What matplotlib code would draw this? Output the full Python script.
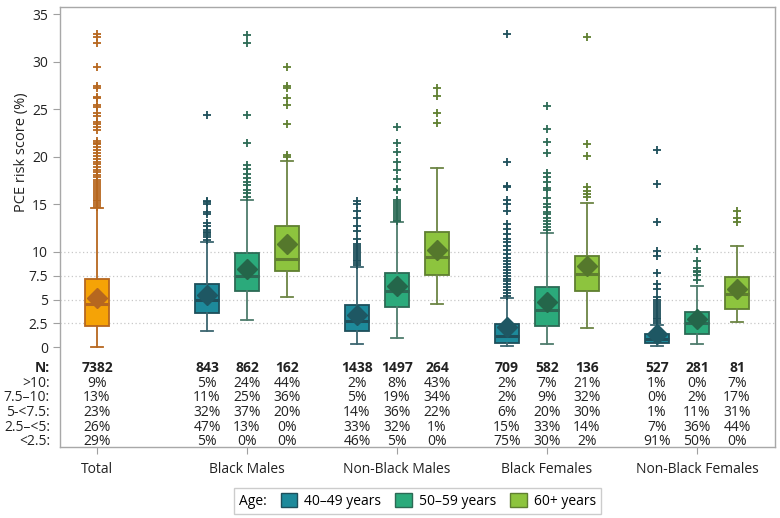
import matplotlib
matplotlib.use("Agg")
import matplotlib.pyplot as plt
from matplotlib.patches import Patch

plt.rcParams['font.family'] = ['Open Sans', 'DejaVu Sans']
plt.rcParams['font.size'] = 10

groups = ["Black Males", "Non-Black Males", "Black Females", "Non-Black Females"]
ages = ["40–49 years", "50–59 years", "60+ years"]
row_labels = [">10:", "7.5–10:", "5-<7.5:", "2.5–<5:", "<2.5:"]

# Total
total_n = 7382
total_pct = [9, 13, 23, 26, 29]
total_box = dict(whislo=0.0, q1=2.2, med=4.5, q3=7.2, whishi=14.6, mean=5.15,
                 fliers=[14.7, 14.9, 15.1, 15.3, 15.5, 15.7, 15.9, 16.1, 16.3, 16.5, 16.7,
                         16.9, 17.1, 17.4, 17.6, 17.9, 18.1, 18.4, 18.6, 18.9, 19.2, 19.5,
                         19.8, 20.1, 20.4, 20.7, 21.0, 21.3, 21.5, 21.7, 22.8, 23.1, 23.4,
                         23.7, 24.3, 24.6, 25.2, 25.4, 26.2, 26.3, 27.2, 27.4, 29.4, 32.0,
                         32.6, 32.9])

# 40-49 years (one value per group)
n_40 = [843, 1438, 709, 527]
pct_40 = [[5, 11, 32, 47, 5], [2, 5, 14, 33, 46], [2, 2, 6, 15, 75], [1, 0, 1, 7, 91]]
lo_40 = [1.72, 0.3, 0.07, 0.14]
q1_40 = [3.6, 1.72, 0.45, 0.45]
med_40 = [4.94, 2.73, 1.16, 0.9]
q3_40 = [6.58, 4.41, 2.42, 1.33]
hi_40 = [11.06, 8.44, 5.2, 2.31]
mean_40 = [5.43, 3.36, 2.13, 1.35]
fl_40 = [
    [11.3, 11.6, 11.8, 12.0, 12.1, 12.3, 12.7, 13.0, 14.0, 14.2, 15.0, 15.2, 15.4, 24.4],
    [8.6, 8.8, 9.0, 9.2, 9.4, 9.6, 9.8, 10.0, 10.2, 10.4, 10.6, 10.8, 11.4, 12.2, 12.7,
     13.6, 14.3, 15.0, 15.3],
    [5.4, 5.7, 6.0, 6.3, 6.6, 6.9, 7.2, 7.5, 7.8, 8.1, 8.4, 8.7, 9.0, 9.4, 9.8, 10.2,
     10.6, 11.0, 11.4, 11.9, 12.4, 12.9, 14.3, 15.0, 15.5, 16.8, 16.9, 19.4, 32.9],
    [2.5, 2.7, 2.9, 3.1, 3.3, 3.5, 3.7, 3.9, 4.1, 4.3, 4.5, 4.7, 5.0, 5.3, 6.1, 6.6,
     7.8, 9.6, 10.1, 13.1, 17.1, 20.7],
]

# 50-59 years
n_50 = [862, 1497, 582, 281]
pct_50 = [[24, 25, 37, 13, 0], [8, 19, 36, 32, 5], [7, 9, 20, 33, 30], [0, 2, 11, 36, 50]]
lo_50 = [2.8, 0.91, 0.35, 0.35]
q1_50 = [5.88, 4.17, 2.24, 1.4]
med_50 = [7.46, 5.88, 3.85, 2.49]
q3_50 = [9.84, 7.77, 6.27, 3.71]
hi_50 = [15.44, 13.1, 11.94, 6.44]
mean_50 = [8.16, 6.4, 4.76, 2.91]
fl_50 = [
    [15.8, 16.2, 16.5, 17.0, 17.3, 17.8, 18.2, 18.7, 19.1, 21.5, 24.4, 32.0, 32.8],
    [13.2, 13.4, 13.6, 13.8, 14.0, 14.2, 14.4, 14.6, 14.8, 15.0, 15.2, 15.5, 16.5, 16.6,
     17.7, 18.6, 19.5, 20.5, 21.4, 23.1],
    [12.3, 12.6, 12.9, 13.3, 13.6, 14.0, 14.2, 14.7, 15.0, 15.7, 16.5, 16.7, 17.4, 17.9,
     18.3, 20.4, 21.6, 22.9, 25.3],
    [7.1, 7.6, 7.9, 8.0, 8.3, 9.0, 10.3],
]

# 60+ years
n_60 = [162, 264, 136, 81]
pct_60 = [[44, 36, 20, 0, 0], [43, 34, 22, 1, 0], [21, 32, 30, 14, 2], [7, 17, 31, 44, 0]]
lo_60 = [5.22, 4.48, 2.03, 2.66]
q1_60 = [7.95, 7.56, 5.91, 3.96]
med_60 = [9.28, 9.49, 7.7, 5.53]
q3_60 = [12.71, 12.1, 9.59, 7.35]
hi_60 = [19.6, 18.87, 15.09, 10.6]
mean_60 = [10.79, 10.19, 8.5, 6.09]
fl_60 = [
    [20.0, 20.2, 23.4, 25.4, 26.2, 27.2, 27.4, 29.4],
    [23.6, 24.6, 26.4, 27.2],
    [15.8, 16.1, 16.4, 16.8, 20.1, 21.3, 32.6],
    [13.1, 13.6, 14.3],
]

fills = ["#1D8A9B", "#2BAA7B", "#8DC43E"]
edges = ["#1E4F5B", "#2C6A55", "#5F7F30"]
whisk = ["#3C6670", "#4E7C6C", "#6C8544"]
means = ["#1E5763", "#24664A", "#55782C"]

fig = plt.figure(figsize=(7.8, 5.18), dpi=100)
ax = fig.add_axes([60 / 780, 1 - 447 / 518, 715 / 780, 440 / 518])

ax.set_xlim(-0.925, 16.95)
ax.set_ylim(-10.5, 35.74)

for yv in [2.5, 5, 7.5, 10]:
    ax.axhline(yv, color="#C8C8C8", lw=0.9, ls=(0, (1, 2)), zorder=0)


def draw(stats, pos, fc, ec, wc, mc):
    ax.bxp(stats, positions=pos, widths=0.62, showmeans=True, patch_artist=True,
           capwidths=0.3, manage_ticks=False,
           boxprops=dict(facecolor=fc, edgecolor=ec, linewidth=1.3),
           medianprops=dict(color=ec, linewidth=2.2),
           whiskerprops=dict(color=wc, linewidth=1.3),
           capprops=dict(color=wc, linewidth=1.3),
           meanprops=dict(marker="D", markersize=10, markerfacecolor=mc,
                          markeredgecolor=mc),
           flierprops=dict(marker="+", markersize=6, markeredgewidth=1.3,
                           markeredgecolor=ec, linestyle="none"),
           zorder=3)


draw([total_box], [0], "#F5A306", "#B6671F", "#B6671F", "#B6671F")

series = [
    (lo_40, q1_40, med_40, q3_40, hi_40, mean_40, fl_40),
    (lo_50, q1_50, med_50, q3_50, hi_50, mean_50, fl_50),
    (lo_60, q1_60, med_60, q3_60, hi_60, mean_60, fl_60),
]
centers = [3.75 + 3.75 * g for g in range(len(groups))]
for a, (lo, q1, md, q3, hi, mn, fl) in enumerate(series):
    stats = [dict(whislo=lo[g], q1=q1[g], med=md[g], q3=q3[g], whishi=hi[g],
                  mean=mn[g], fliers=fl[g]) for g in range(len(groups))]
    pos = [c + (a - 1) for c in centers]
    draw(stats, pos, fills[a], edges[a], whisk[a], means[a])

# table under the boxes
row_y = [-3.78, -5.25, -6.83, -8.4, -9.87]
n_y = -2.2
tr = ax.get_yaxis_transform()
ax.text(-0.014, n_y, "N:", transform=tr, ha="right", va="center", fontweight="bold",
        color="#222222")
for r, lab in enumerate(row_labels):
    ax.text(-0.014, row_y[r], lab, transform=tr, ha="right", va="center", color="#222222")

ax.text(0, n_y, f"{total_n}", ha="center", va="center", fontweight="bold", color="#222222")
for r in range(5):
    ax.text(0, row_y[r], f"{total_pct[r]}%", ha="center", va="center", color="#222222")

for a, (ns, pcts) in enumerate([(n_40, pct_40), (n_50, pct_50), (n_60, pct_60)]):
    for g in range(len(groups)):
        x = centers[g] + (a - 1)
        ax.text(x, n_y, f"{ns[g]}", ha="center", va="center", fontweight="bold",
                color="#222222")
        for r in range(5):
            ax.text(x, row_y[r], f"{pcts[g][r]}%", ha="center", va="center",
                    color="#222222")

ax.set_yticks([0, 2.5, 5, 7.5, 10, 15, 20, 25, 30, 35])
ax.set_yticklabels(["0", "2.5", "5", "7.5", "10", "15", "20", "25", "30", "35"])
ax.set_xticks([0] + centers)
ax.set_xticklabels(["Total"] + groups)
ax.tick_params(axis="both", colors="#A0A0A0", labelcolor="#222222", length=5,
               labelsize=10)
ax.tick_params(axis="x", pad=6)
ax.set_ylabel("PCE risk score (%)", fontsize=10.5, color="#222222")
ax.yaxis.set_label_coords(-0.043, 0.67)
for s in ax.spines.values():
    s.set_color("#A8A8A8")
    s.set_linewidth(1.0)

handles = [Patch(facecolor=fills[i], edgecolor=edges[i], linewidth=1.0)
           for i in range(3)]
leg = ax.legend(handles, ages, title="Age:", ncol=3, loc="center",
                bbox_to_anchor=(0.5, -0.123), fancybox=False, edgecolor="#CCCCCC",
                handlelength=1.2, handleheight=1.2, handletextpad=0.5,
                columnspacing=1.0, fontsize=10, title_fontsize=10,
                borderpad=0.35, framealpha=1)
# put the title to the left of the entries
c = leg.get_children()[0]
title = c.get_children()[0]
hpack = c.get_children()[1]
c._children.remove(title)
hpack._children = [title] + hpack.get_children()

fig.savefig("out.png", dpi=100)
